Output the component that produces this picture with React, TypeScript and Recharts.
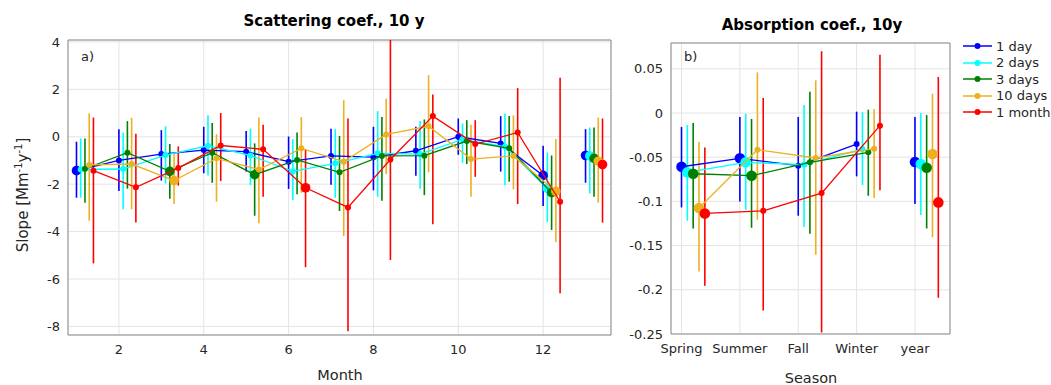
import { ComposedChart, Scatter, ErrorBar, XAxis, YAxis, CartesianGrid, ReferenceArea } from 'recharts';

const seriesNames = ['1 day', '2 days', '3 days', '10 days', '1 month'];
const seriesColors = ['#0000ff', '#00ffff', '#008000', '#edb120', '#ff0000'];

// scattering: months 1..12, then 13 = whole year
const monthPos = [1, 2, 3, 4, 5, 6, 7, 8, 9, 10, 11, 12, 13];
const monthTicks = [2, 4, 6, 8, 10, 12];
const scatTicks = [-8, -6, -4, -2, 0, 2, 4];

type Row = [number, number, number, number]; // slope, lower, upper, significant

const scat1Day: Row[] = [
  [-1.43, -2.57, -0.21, 1], [-1.0, -2.29, 0.32, 0], [-0.73, -1.85, 0.28, 0], [-0.56, -1.54, 0.42, 0],
  [-0.63, -1.47, 0.24, 0], [-1.05, -2.2, 0.01, 0], [-0.81, -2.02, 0.34, 0], [-0.86, -2.26, 0.42, 0],
  [-0.59, -1.64, 0.42, 0], [0.0, -0.76, 0.77, 0], [-0.28, -1.47, 0.87, 0], [-1.63, -2.92, -0.38, 1],
  [-0.79, -1.94, 0.32, 1],
];
const scat2Days: Row[] = [
  [-1.38, -2.57, -0.07, 0], [-1.36, -3.06, 0.18, 0], [-0.77, -1.97, 0.44, 0], [-0.38, -1.63, 0.91, 0],
  [-0.79, -2.04, 0.34, 0], [-1.46, -2.67, -0.11, 0], [-1.12, -2.57, 0.32, 0], [-0.7, -2.53, 1.08, 0],
  [-0.73, -2.19, 0.66, 0], [-0.11, -1.1, 0.56, 0], [-0.42, -2.05, 0.98, 0], [-2.18, -3.6, -0.66, 1],
  [-0.81, -2.39, 0.39, 1],
];
const scat3Days: Row[] = [
  [-1.35, -2.78, -0.07, 0], [-0.67, -2.19, 0.66, 0], [-1.46, -2.61, -0.31, 1], [-0.67, -1.94, 0.58, 0],
  [-1.6, -3.33, -0.28, 1], [-0.98, -2.42, 0.18, 0], [-1.5, -3.13, 0.03, 0], [-0.81, -2.7, 0.83, 0],
  [-0.8, -2.46, 0.73, 0], [-0.18, -1.15, 0.7, 0], [-0.49, -1.9, 0.87, 0], [-2.36, -3.93, -0.79, 1],
  [-0.91, -2.53, 0.39, 1],
];
const scat10Days: Row[] = [
  [-1.19, -3.54, 0.98, 0], [-1.15, -3.06, 0.8, 0], [-1.85, -2.84, -0.7, 1], [-0.91, -2.74, 0.11, 0],
  [-1.38, -3.65, 0.81, 0], [-0.49, -2.36, 0.83, 0], [-1.05, -4.19, 1.54, 0], [0.1, -1.57, 1.6, 0],
  [0.44, -1.5, 2.6, 0], [-0.94, -2.53, 0.51, 0], [-0.81, -2.22, 0.9, 0], [-2.3, -4.44, -0.1, 1],
  [-1.03, -2.78, 0.81, 1],
];
const scat1Month: Row[] = [
  [-1.43, -5.34, 0.81, 0], [-2.13, -3.62, 0.13, 0], [-1.32, -2.06, -0.41, 0], [-0.37, -1.87, 1.0, 0],
  [-0.53, -2.53, 0.51, 0], [-2.15, -5.5, -0.52, 1], [-2.98, -8.2, 0.77, 0], [-0.96, -5.2, 4.08, 0],
  [0.87, -3.69, 1.78, 0], [-0.31, -1.69, 0.7, 0], [0.18, -2.84, 2.05, 0], [-2.74, -6.6, 2.49, 0],
  [-1.17, -3.62, 0.77, 1],
];

// absorption: seasons, then whole year
const seasons = ['Spring', 'Summer', 'Fall', 'Winter', 'year'];
const seasonPos = [1, 2, 3, 4, 5];
const absTicks = [-0.25, -0.2, -0.15, -0.1, -0.05, 0, 0.05];

const abs1Day: Row[] = [
  [-0.0608, -0.1068, -0.0158, 1], [-0.0513, -0.1, -0.0045, 1], [-0.0596, -0.1162, -0.0045, 0],
  [-0.0351, -0.0717, 0.0015, 0], [-0.0555, -0.103, -0.0045, 1],
];
const abs2Days: Row[] = [
  [-0.0672, -0.1219, -0.0136, 1], [-0.0558, -0.1094, -0.0008, 1], [-0.0585, -0.129, 0.009, 0],
  [-0.0408, -0.0815, 0.0008, 0], [-0.0577, -0.1155, 0.0, 1],
];
const abs3Days: Row[] = [
  [-0.0687, -0.1306, -0.0113, 1], [-0.0709, -0.1298, -0.0068, 1], [-0.0558, -0.1366, 0.024, 0],
  [-0.0445, -0.0936, 0.0038, 0], [-0.0619, -0.1306, -0.0023, 1],
];
const abs10Days: Row[] = [
  [-0.1075, -0.1792, -0.0325, 1], [-0.0415, -0.1208, 0.046, 0], [-0.0509, -0.1604, 0.037, 0],
  [-0.0404, -0.0962, 0.0045, 0], [-0.0464, -0.1404, 0.0219, 1],
];
const abs1Month: Row[] = [
  [-0.1136, -0.1955, -0.0389, 1], [-0.1106, -0.2234, 0.017, 0], [-0.0906, -0.2483, 0.0698, 0],
  [-0.0143, -0.0875, 0.066, 0], [-0.1011, -0.209, 0.0408, 1],
];

const FONT = '"DejaVu Sans", sans-serif';
const DODGE = 0.1;
const tickStyle = { fontSize: 13, fill: '#262626', fontFamily: FONT };

const toPoints = (rows: Row[], pos: number[], idx: number) =>
  rows.map((r, k) => ({ x: pos[k] + idx * DODGE, y: r[0], err: [r[0] - r[1], r[2] - r[0]], sig: r[3] }));

const marker = (color: string, rSmall: number, rBig: number) => (p: any) => {
  const sig = p.payload ? p.payload.sig : p.sig;
  return <circle cx={p.cx} cy={p.cy} r={sig ? rBig : rSmall} fill={color} stroke="none" />;
};

function Panel(props: any) {
  const { series, pos, width, height, margin, xDomain, xTicks, xFmt, yDomain, yTicks, yWidth, rSmall, rBig } = props;
  const pts = series.map((rows: Row[], i: number) => toPoints(rows, pos, i));
  return (
    <ComposedChart width={width} height={height} margin={margin}>
      <CartesianGrid stroke="#e4e4e4" />
      <XAxis type="number" dataKey="x" domain={xDomain} ticks={xTicks} tickFormatter={xFmt} interval={0}
        allowDataOverflow tickLine={false} axisLine={false} tick={tickStyle} tickMargin={4} height={30} />
      <YAxis type="number" dataKey="y" domain={yDomain} ticks={yTicks} interval={0}
        allowDataOverflow tickLine={false} axisLine={false} tick={tickStyle} width={yWidth} />
      <ReferenceArea x1={xDomain[0]} x2={xDomain[1]} y1={yDomain[0]} y2={yDomain[1]}
        fill="none" fillOpacity={0} stroke="#8c8c8c" strokeWidth={1} />
      {pts.map((p: any[], i: number) => [
        <Scatter key={'s' + i} data={p.slice(0, -1)} line={{ stroke: seriesColors[i], strokeWidth: 1.3 }}
          lineType="joint" shape={marker(seriesColors[i], rSmall, rBig)} isAnimationActive={false}>
          <ErrorBar dataKey="err" direction="y" width={0} stroke={seriesColors[i]} strokeWidth={1.6} isAnimationActive={false} />
        </Scatter>,
        <Scatter key={'y' + i} data={p.slice(-1)} shape={marker(seriesColors[i], rSmall, rBig)} isAnimationActive={false}>
          <ErrorBar dataKey="err" direction="y" width={0} stroke={seriesColors[i]} strokeWidth={1.6} isAnimationActive={false} />
        </Scatter>,
      ])}
    </ComposedChart>
  );
}

const abs = (extra: any) => ({ position: 'absolute' as const, fontFamily: FONT, color: '#000', whiteSpace: 'nowrap' as const, ...extra });

export default function App() {
  return (
    <div style={{ position: 'absolute', left: 0, top: 0, width: 1051, height: 385, background: '#fff' }}>
      <div style={{ position: 'absolute', left: 0, top: 0 }}>
        <Panel series={[scat1Day, scat2Days, scat3Days, scat10Days, scat1Month]} pos={monthPos}
          width={620} height={385} margin={{ top: 40, right: 9, bottom: 20, left: 28 }}
          xDomain={[0.8, 13.6]} xTicks={monthTicks} yDomain={[-8.36, 4.08]} yTicks={scatTicks} yWidth={40}
          rSmall={3} rBig={4.8} />
      </div>
      <div style={{ position: 'absolute', left: 620, top: 0 }}>
        <Panel series={[abs1Day, abs2Days, abs3Days, abs10Days, abs1Month]} pos={seasonPos}
          width={431} height={385} margin={{ top: 43, right: 101, bottom: 21, left: 6 }}
          xDomain={[0.82, 5.6]} xTicks={seasonPos} xFmt={(v: number) => seasons[Math.round(v) - 1]}
          yDomain={[-0.25, 0.0792]} yTicks={absTicks} yWidth={45} rSmall={3} rBig={5.3} />
      </div>

      <div style={abs({ left: 134, width: 400, top: 12, lineHeight: '18px', textAlign: 'center', fontSize: 15, fontWeight: 'bold' })}>
        Scattering coef., 10 y
      </div>
      <div style={abs({ left: 612, width: 400, top: 16, lineHeight: '18px', textAlign: 'center', fontSize: 15, fontWeight: 'bold' })}>
        Absorption coef., 10y
      </div>
      <div style={abs({ left: 240, width: 200, top: 366, lineHeight: '18px', textAlign: 'center', fontSize: 14.5, color: '#262626' })}>
        Month
      </div>
      <div style={abs({ left: 711, width: 200, top: 369, lineHeight: '18px', textAlign: 'center', fontSize: 14.5, color: '#262626' })}>
        Season
      </div>
      <div style={abs({ left: 22, top: 195, fontSize: 15, color: '#262626', transform: 'translate(-50%, -50%) rotate(-90deg)' })}>
        Slope [Mm<sup style={{ fontSize: 10 }}>-1</sup>y<sup style={{ fontSize: 10 }}>-1</sup>]
      </div>
      <div style={abs({ left: 81, top: 48, lineHeight: '18px', fontSize: 13, color: '#262626' })}>a)</div>
      <div style={abs({ left: 684, top: 48, lineHeight: '18px', fontSize: 13, color: '#262626' })}>b)</div>

      <div style={abs({ left: 963, top: 38 })}>
        {seriesNames.map((name, i) => (
          <div key={name} style={{ display: 'flex', alignItems: 'center', height: 16.5 }}>
            <svg width={30} height={16}>
              <line x1={0} y1={8} x2={29} y2={8} stroke={seriesColors[i]} strokeWidth={1.5} />
              <circle cx={14.5} cy={8} r={3} fill={seriesColors[i]} />
            </svg>
            <span style={{ fontSize: 13, marginLeft: 3, color: '#262626' }}>{name}</span>
          </div>
        ))}
      </div>
    </div>
  );
}
